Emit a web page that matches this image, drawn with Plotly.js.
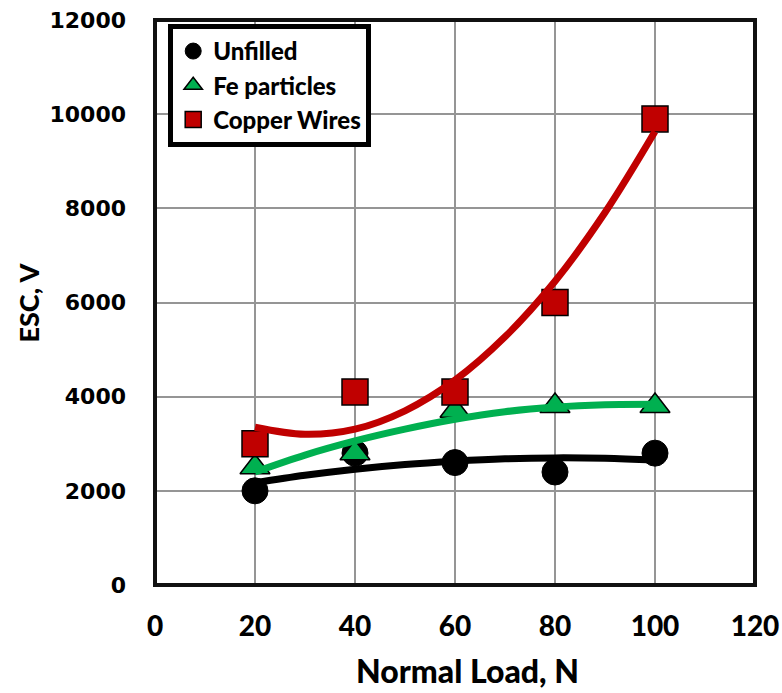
<!DOCTYPE html>
<html>
<head>
<meta charset="utf-8">
<script src="https://cdn.plot.ly/plotly-3.0.1.min.js"></script>
<style>html,body{margin:0;padding:0;background:#fff;}#chart{width:782px;height:693px;}</style>
</head>
<body>
<div id="chart"></div>
<script>
// Measured points
var loads = [20, 40, 60, 80, 100];
var unfilled = [2000, 2800, 2600, 2400, 2800];
var feParticles = [2500, 2800, 3700, 3800, 3800];
var copperWires = [3000, 4100, 4100, 6000, 9900];

// Trend lines
var trendLoads = [20, 30, 40, 50, 60, 70, 80, 90, 100];
var unfilledTrend = [2170, 2330, 2460, 2560, 2630, 2680, 2700, 2690, 2650];
var feTrend = [2400, 2760, 3060, 3310, 3520, 3680, 3780, 3830, 3840];
var copperTrend = [3350, 3200, 3310, 3700, 4350, 5270, 6450, 7910, 9630];

var xTicks = [0, 20, 40, 60, 80, 100, 120];
var yTicks = [0, 2000, 4000, 6000, 8000, 10000, 12000];

var BOLD = 'Lato, "Open Sans", sans-serif';

var traces = [
  {x: loads, y: unfilled, name: 'Unfilled', mode: 'markers', legendgroup: 'a',
   marker: {symbol: 'circle', size: 26, color: '#000000', line: {color: '#000000', width: 1}}},
  {x: loads, y: feParticles, name: 'Fe particles', mode: 'markers', legendgroup: 'b',
   marker: {symbol: 'triangle-up', size: 26, color: '#00B050', line: {color: '#000000', width: 1.5}}},
  {x: loads, y: copperWires, name: 'Copper Wires', mode: 'markers', legendgroup: 'c',
   marker: {symbol: 'square', size: 26, color: '#C00000', line: {color: '#000000', width: 1.5}}},
  {x: trendLoads, y: unfilledTrend, mode: 'lines', showlegend: false, hoverinfo: 'skip',
   line: {color: '#000000', width: 7, shape: 'spline'}},
  {x: trendLoads, y: feTrend, mode: 'lines', showlegend: false, hoverinfo: 'skip',
   line: {color: '#00B050', width: 7, shape: 'spline'}},
  {x: trendLoads, y: copperTrend, mode: 'lines', showlegend: false, hoverinfo: 'skip',
   line: {color: '#C00000', width: 7, shape: 'spline'}}
];

var layout = {
  width: 782, height: 693,
  margin: {l: 155, r: 27, t: 20, b: 108},
  paper_bgcolor: '#ffffff', plot_bgcolor: '#ffffff',
  showlegend: true,
  xaxis: {
    range: [0, 120], tickvals: xTicks, ticktext: xTicks.map(String),
    showgrid: true, gridcolor: '#959595', gridwidth: 2, zeroline: false,
    showline: false, ticks: '', ticklabelstandoff: 22,
    tickfont: {family: BOLD, size: 28, weight: 900, color: '#000'}
  },
  yaxis: {
    range: [0, 12000], tickvals: yTicks, ticktext: yTicks.map(String),
    showgrid: true, gridcolor: '#959595', gridwidth: 2, zeroline: false,
    showline: false, ticks: '', ticklabelstandoff: 28,
    tickfont: {family: '"DejaVu Sans", sans-serif', size: 22, weight: 700, color: '#000'}
  },
  legend: {
    x: 0.022, y: 0.993, xanchor: 'left', yanchor: 'top',
    bgcolor: '#ffffff', bordercolor: '#000000', borderwidth: 5,
    font: {family: BOLD, size: 24, weight: 900, color: '#000'},
    tracegroupgap: 0, itemwidth: 30
  },
  shapes: [
    {type: 'rect', xref: 'paper', yref: 'paper', x0: 0, x1: 1, y0: 0, y1: 1,
     line: {color: '#111111', width: 4}, layer: 'above'}
  ],
  annotations: [
    {text: 'Normal Load, N', xref: 'paper', yref: 'paper', x: (467 - 155) / 600, y: -0.152,
     xanchor: 'center', yanchor: 'middle', showarrow: false,
     font: {family: BOLD, size: 32, weight: 900, color: '#000'}},
    {text: 'ESC, V', xref: 'paper', yref: 'paper', x: (28 - 155) / 600, y: 0.5,
     xanchor: 'center', yanchor: 'middle', showarrow: false, textangle: -90,
     font: {family: BOLD, size: 27, weight: 900, color: '#000'}}
  ]
};

Plotly.newPlot('chart', traces, layout, {displayModeBar: false, staticPlot: true});
</script>
</body>
</html>
